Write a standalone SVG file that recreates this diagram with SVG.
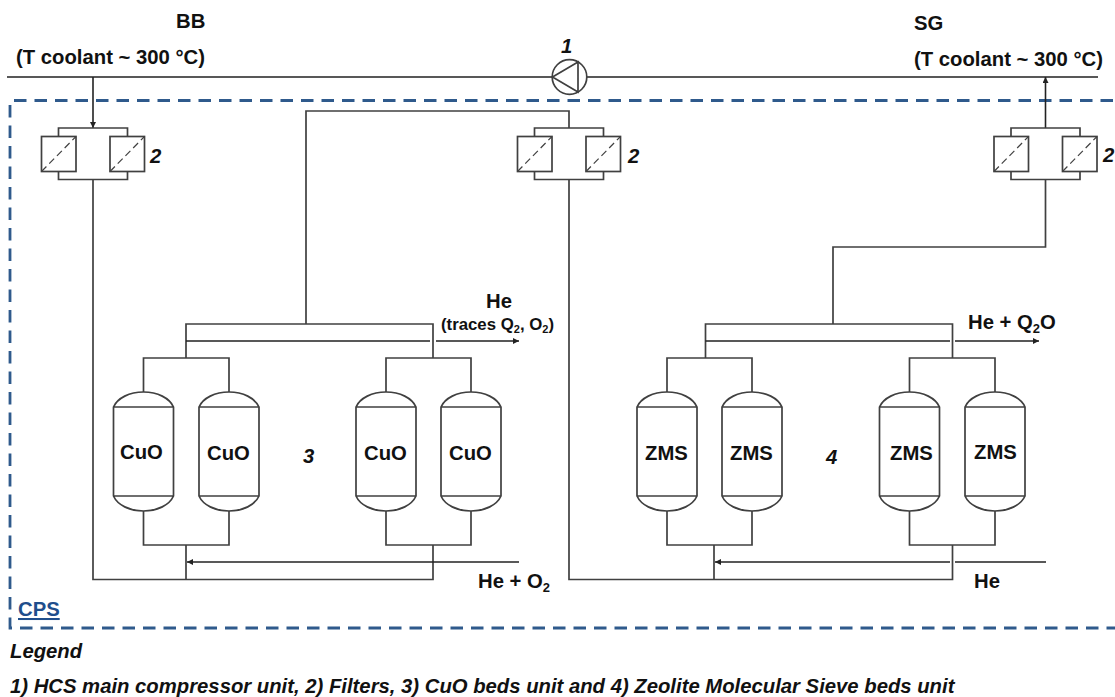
<svg xmlns="http://www.w3.org/2000/svg" width="1115" height="697" viewBox="0 0 1115 697">
<style>
.l{fill:none;stroke:#404040;stroke-width:1.7}
.k{fill:none;stroke:#222;stroke-width:1.6}
.d{fill:none;stroke:#404040;stroke-width:1.2;stroke-dasharray:7 4}
.b{fill:none;stroke:#2f5a8c;stroke-width:2.8;stroke-dasharray:12.5 8}
.t{font-family:"Liberation Sans",Arial,sans-serif;font-weight:700;font-size:20.3px;fill:#111}
.s{font-size:13px}
.i{font-style:italic}
</style>
<defs>
<marker id="a" markerWidth="7" markerHeight="6" refX="6" refY="3" orient="auto" markerUnits="userSpaceOnUse"><path d="M0 0L6 3L0 6Z" fill="#222"/></marker>
<g id="filter"><path class="l" d="M-34.500 -17.500V-26H34.500V-17.500M-34.500 17.500V25.500H34.500V17.500"/><rect class="l" x="-51.500" y="-17.500" width="34.500" height="35"/><rect class="l" x="17" y="-17.500" width="34.500" height="35"/><path class="d" d="M-51.500 17.500L-17 -17.500M17 17.500L51.500 -17.500"/></g>
<g id="vessel"><path class="l" d="M-30 -45C-26 -54 -14 -60 0 -60C14 -60 26 -54 30 -45V44C26 53 14 59 0 59C-14 59 -26 53 -30 44ZM-30 -45H30M-30 44H30"/></g>
</defs>
<g id="cps-boundary">
<path class="b" d="M14 100.500H1115"/>
<path class="b" d="M10 105V628H1115"/>
</g>
<g id="connectors">
<path class="k" d="M7 77H552M587 77H1098"/>
<path class="k" d="M93 77V128" marker-end="url(#a)"/>
<path class="k" d="M1045.500 128V77" marker-end="url(#a)"/>
<path class="l" d="M93 179V579.500H433V545M186 579.500V545M306 324V111H569V128"/>
<path class="l" d="M569 179V579.500H952.500V545M714 579.500V545M833 324V247H1045.500V179"/>
<path class="l" d="M186 358V324H433V358"/>
<path class="k" d="M186 341H430M436 341H519" marker-end="url(#a)"/>
<path class="l" d="M143.500 392V358H229V392M386 392V358H471V392"/>
<path class="l" d="M143.500 511V545H229V511M386 511V545H471V511"/>
<path class="k" d="M519 562H187" marker-end="url(#a)"/>
<path class="l" d="M705.500 358V324H952.500V358"/>
<path class="k" d="M705.500 341H950M955 341H1039" marker-end="url(#a)"/>
<path class="l" d="M667 392V358H752V392M909.500 392V358H995V392"/>
<path class="l" d="M667 511V545H752V511M909.500 511V545H995V511"/>
<path class="k" d="M1046 562H955M950 562H715" marker-end="url(#a)"/>
</g>
<g id="compressor"><circle cx="569.500" cy="77" r="17.300" fill="#fff" stroke="#404040" stroke-width="1.700"/><path class="l" d="M552.500 77L578 62V92Z"/><text class="t i" x="561" y="53">1</text></g>
<g id="filter-bb"><use href="#filter" x="93" y="154"/><text class="t i" x="150" y="163">2</text></g>
<g id="filter-mid"><use href="#filter" x="569" y="154"/><text class="t i" x="628" y="163">2</text></g>
<g id="filter-sg"><use href="#filter" x="1045.500" y="154"/><text class="t i" x="1103" y="162">2</text></g>
<g id="cuo1"><use href="#vessel" x="143.500" y="452"/><text class="t" x="120" y="459">CuO</text></g>
<g id="cuo2"><use href="#vessel" x="229" y="452"/><text class="t" x="207" y="460">CuO</text></g>
<g id="cuo3"><use href="#vessel" x="386" y="452"/><text class="t" x="364" y="460">CuO</text></g>
<g id="cuo4"><use href="#vessel" x="471" y="452"/><text class="t" x="449" y="460">CuO</text></g>
<g id="zms1"><use href="#vessel" x="667" y="452"/><text class="t" x="645" y="460">ZMS</text></g>
<g id="zms2"><use href="#vessel" x="752" y="452"/><text class="t" x="730" y="460">ZMS</text></g>
<g id="zms3"><use href="#vessel" x="909.500" y="452"/><text class="t" x="890" y="460">ZMS</text></g>
<g id="zms4"><use href="#vessel" x="995" y="452"/><text class="t" x="974" y="459">ZMS</text></g>
<g id="labels">
<text class="t" x="176" y="28">BB</text>
<text class="t" x="16" y="64">(T coolant ~ 300 °C)</text>
<text class="t" x="914" y="30">SG</text>
<text class="t" x="914" y="66">(T coolant ~ 300 °C)</text>
<text class="t" x="486" y="308">He</text>
<text class="t" x="441" y="330" style="font-size:16.800px">(traces Q<tspan dy="3" style="font-size:11px">2</tspan><tspan dy="-3">, O</tspan><tspan dy="3" style="font-size:11px">2</tspan><tspan dy="-3">)</tspan></text>
<text class="t" x="968" y="329">He + Q<tspan class="s" dy="4">2</tspan><tspan dy="-4">O</tspan></text>
<text class="t" x="478" y="588">He + O<tspan class="s" dy="4">2</tspan></text>
<text class="t" x="974" y="588">He</text>
<text class="t i" x="303" y="463">3</text>
<text class="t i" x="826" y="464">4</text>
<text class="t" x="18" y="616" style="fill:#1f4e8c" text-decoration="underline">CPS</text>
<text class="t i" x="10" y="658">Legend</text>
<text class="t i" x="10" y="693">1) HCS main compressor unit, 2) Filters, 3) CuO beds unit and 4) Zeolite Molecular Sieve beds unit</text>
</g>
</svg>
